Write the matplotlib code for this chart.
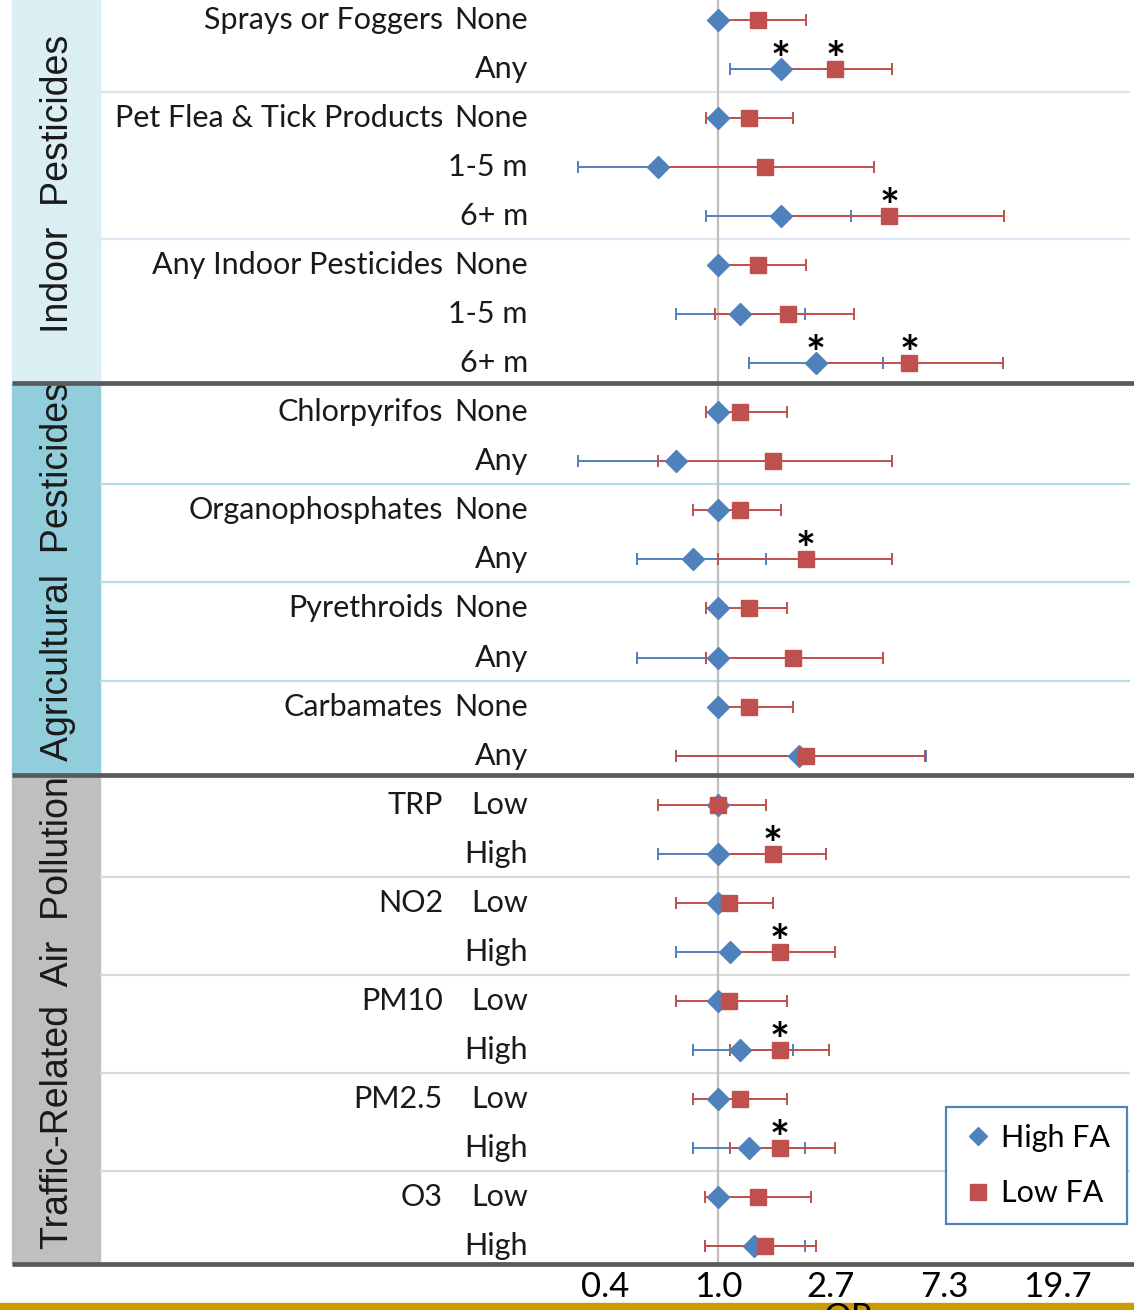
import numpy as np
import matplotlib
matplotlib.use('Agg')
import matplotlib.pyplot as plt
from matplotlib.patches import Rectangle
from matplotlib.lines import Line2D
from matplotlib.ticker import NullLocator

# ---- data ----
sections = ['Indoor  Pesticides', 'Agricultural  Pesticides', 'Traffic-Related  Air  Pollution']
section_sizes = [8, 8, 10]

groups = ['Sprays or Foggers', 'Pet Flea & Tick Products', 'Any Indoor Pesticides',
          'Chlorpyrifos', 'Organophosphates', 'Pyrethroids', 'Carbamates',
          'TRP', 'NO2', 'PM10', 'PM2.5', 'O3']
group_sizes = [2, 3, 3, 2, 2, 2, 2, 2, 2, 2, 2, 2]

levels = ['None', 'Any', 'None', '1-5 m', '6+ m', 'None', '1-5 m', '6+ m',
          'None', 'Any', 'None', 'Any', 'None', 'Any', 'None', 'Any',
          'Low', 'High', 'Low', 'High', 'Low', 'High', 'Low', 'High', 'Low', 'High']

nan = np.nan
high_or = np.array([1.0, 1.74, 1.0, 0.59, 1.74, 1.0, 1.21, 2.38,
                    1.0, 0.69, 1.0, 0.80, 1.0, 1.00, 1.0, 2.04,
                    1.0, 1.00, 1.0, 1.11, 1.0, 1.21, 1.0, 1.32, 1.0, 1.38])
high_lo = np.array([nan, 1.11, nan, 0.29, 0.90, nan, 0.69, 1.32,
                    nan, 0.29, nan, 0.49, nan, 0.49, nan, 0.69,
                    nan, 0.59, nan, 0.69, nan, 0.80, nan, 0.80, nan, 0.89])
high_hi = np.array([nan, 2.80, nan, 1.52, 3.24, nan, 2.16, 4.32,
                    nan, 1.62, nan, 1.53, nan, 1.94, nan, 6.28,
                    nan, 1.62, nan, 1.73, nan, 1.95, nan, 2.16, nan, 2.16])

low_or = np.array([1.42, 2.82, 1.32, 1.52, 4.55, 1.42, 1.85, 5.44,
                   1.21, 1.62, 1.21, 2.17, 1.32, 1.94, 1.32, 2.17,
                   1.00, 1.62, 1.10, 1.73, 1.10, 1.73, 1.21, 1.73, 1.42, 1.52])
low_lo = np.array([0.98, 1.72, 0.90, 0.60, 1.74, 0.98, 0.97, 2.34,
                   0.90, 0.59, 0.80, 1.00, 0.90, 0.90, 0.98, 0.69,
                   0.59, 1.00, 0.69, 1.11, 0.69, 1.11, 0.80, 1.11, 0.89, 0.89])
low_hi = np.array([2.17, 4.65, 1.95, 3.99, 12.6, 2.17, 3.34, 12.5,
                   1.84, 4.65, 1.74, 4.65, 1.84, 4.31, 1.95, 6.25,
                   1.53, 2.60, 1.63, 2.81, 1.84, 2.68, 1.84, 2.81, 2.28, 2.39])

# significance stars (row index)
star_high = [1, 7]
star_low = [1, 4, 7, 11, 17, 19, 21, 23]

tick_ln = [-1, 0, 1, 2, 3]
tick_labels = ['0.4', '1.0', '2.7', '7.3', '19.7']

BLUE = '#4F81BD'
RED = '#C0504D'
band_colors = ['#DAEEF3', '#92CDDC', '#BFBFBF']
sep_colors = ['#DCE6F2', '#B7DEE8', '#D9D9D9']

# ---- layout in pixels ----
W, H = 1134, 1310
PLOT_L, PLOT_R, PLOT_B = 100, 1130, 1264
BAND_L = 12
ROW0_Y, ROW_H = 20, 49.04
REF_X, PX_PER_LN = 718, 113

plt.rcParams['font.family'] = ['Lato', 'DejaVu Sans']
fig = plt.figure(figsize=(W / 100, H / 100), dpi=100)
ax = fig.add_axes([PLOT_L / W, 1 - PLOT_B / H, (PLOT_R - PLOT_L) / W, PLOT_B / H])
ax.set_xscale('log')
ax.set_xlim(np.exp((PLOT_L - REF_X) / PX_PER_LN), np.exp((PLOT_R - REF_X) / PX_PER_LN))
y_top, y_bot = -ROW0_Y / ROW_H, (PLOT_B - ROW0_Y) / ROW_H
ax.set_ylim(y_bot, y_top)

trans = ax.get_yaxis_transform()


def fx(px):
    return (px - PLOT_L) / (PLOT_R - PLOT_L)


rows = np.arange(len(levels))

# section bands + thick dividers
sec_ends = np.cumsum(section_sizes) - 1
start = y_top
for k, name in enumerate(sections):
    end = sec_ends[k] + 0.4 if k < len(sections) - 1 else y_bot
    ax.add_patch(Rectangle((fx(BAND_L), start), fx(PLOT_L) - fx(BAND_L), end - start,
                           transform=trans, color=band_colors[k], clip_on=False, zorder=0))
    ax.text(fx(58), (start + end) / 2 - 0.15, name, rotation=90, ha='center', va='center',
            transform=trans, fontsize=27, family='Liberation Sans', color='#1a1a1a')
    ax.plot([fx(BAND_L), fx(1134)], [end, end], transform=trans, color='#595959',
            lw=3.4, clip_on=False, zorder=6, solid_capstyle='butt')
    start = end

# group dividers and labels
grp_ends = np.cumsum(group_sizes) - 1
grp_starts = grp_ends - np.array(group_sizes) + 1
sec_of_row = np.repeat(np.arange(len(sections)), section_sizes)
for g, name in enumerate(groups):
    ax.text(fx(443), grp_starts[g], name, ha='right', va='center', transform=trans,
            fontsize=22, color='#1a1a1a')
    if grp_ends[g] not in sec_ends:
        yy = grp_ends[g] + 0.47
        ax.plot([0, 1], [yy, yy], transform=trans, color=sep_colors[sec_of_row[grp_ends[g]]],
                lw=1.6, zorder=1)

for r, lev in enumerate(levels):
    ax.text(fx(528), r, lev, ha='right', va='center', transform=trans,
            fontsize=22, color='#1a1a1a')

# reference line at OR = 1
ax.axvline(1.0, color='#BFBFBF', lw=1.6, zorder=1)

# error bars
m = ~np.isnan(high_lo)
ax.errorbar(high_or[m], rows[m], xerr=[high_or[m] - high_lo[m], high_hi[m] - high_or[m]],
            fmt='none', ecolor=BLUE, elinewidth=1.4, capsize=4.5, capthick=1.4, zorder=2)
ax.errorbar(low_or, rows, xerr=[low_or - low_lo, low_hi - low_or],
            fmt='none', ecolor=RED, elinewidth=1.4, capsize=4.5, capthick=1.4, zorder=3)
ax.plot(high_or, rows, 'D', color=BLUE, ms=11, ls='none', zorder=4)
ax.plot(low_or, rows, 's', color=RED, ms=11.5, ls='none', zorder=5)

for r in star_high:
    ax.annotate('*', (high_or[r], r), xytext=(0, -5), textcoords='offset points',
                ha='center', va='baseline', fontsize=34, fontweight='bold')
for r in star_low:
    ax.annotate('*', (low_or[r], r), xytext=(0, -5), textcoords='offset points',
                ha='center', va='baseline', fontsize=34, fontweight='bold')

# axis
ax.set_xticks(np.exp(tick_ln))
ax.set_xticklabels(tick_labels, fontsize=25)
ax.xaxis.set_minor_locator(NullLocator())
ax.tick_params(axis='x', length=0, pad=5)
ax.set_yticks([])
for s in ax.spines.values():
    s.set_visible(False)

# legend
handles = [Line2D([], [], marker='D', color=BLUE, ls='none', ms=9),
           Line2D([], [], marker='s', color=RED, ls='none', ms=11)]
leg = ax.legend(handles, ['High FA', 'Low FA'], loc='upper left',
                bbox_to_anchor=(946 / W, 1 - 1107 / H), bbox_transform=fig.transFigure,
                fontsize=22, frameon=True, fancybox=False, framealpha=1, borderaxespad=0,
                borderpad=0.55, labelspacing=0.9, handletextpad=0.25, handlelength=1.0)
leg.get_frame().set_edgecolor(BLUE)
leg.get_frame().set_linewidth(1.6)

# gold strip at the bottom, with the cut-off axis title
fig.patches.append(Rectangle((0, 0), 1, 7 / H, transform=fig.transFigure,
                             color='#CC9900', zorder=1))
fig.text(848 / W, 1 - 1302 / H, 'OR', ha='center', va='top', fontsize=25, zorder=3)

fig.savefig('out.png', dpi=100)
